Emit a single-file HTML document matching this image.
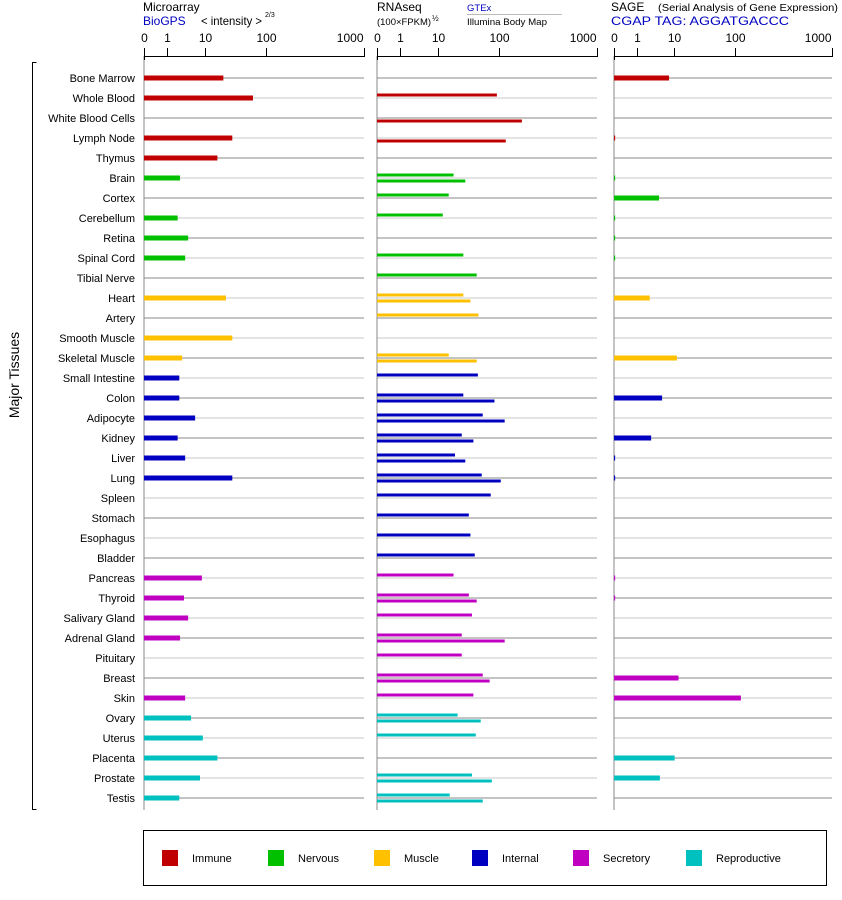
<!DOCTYPE html>
<html><head><meta charset="utf-8"><style>
body{margin:0;background:#fff;font-family:"Liberation Sans",Arial,sans-serif}
svg{display:block}
text{font-family:"Liberation Sans",Arial,sans-serif}
</style></head><body>
<svg id="c" width="842" height="900" xmlns="http://www.w3.org/2000/svg"></svg>
<script>
const tissues=["Bone Marrow","Whole Blood","White Blood Cells","Lymph Node","Thymus","Brain","Cortex","Cerebellum","Retina","Spinal Cord","Tibial Nerve","Heart","Artery","Smooth Muscle","Skeletal Muscle","Small Intestine","Colon","Adipocyte","Kidney","Liver","Lung","Spleen","Stomach","Esophagus","Bladder","Pancreas","Thyroid","Salivary Gland","Adrenal Gland","Pituitary","Breast","Skin","Ovary","Uterus","Placenta","Prostate","Testis"];
const groups=[0,0,0,0,0,1,1,1,1,1,1,2,2,2,2,3,3,3,3,3,3,3,3,3,3,4,4,4,4,4,4,4,5,5,5,5,5];
const groupNames=["Immune","Nervous","Muscle","Internal","Secretory","Reproductive"];
const groupColors=["#c00000","#00c000","#ffc000","#0000c0","#c000c0","#00c0c0"];
const microarray=[20,61,null,28,16,2.2,null,1.9,3.6,3.0,null,22,null,28,2.5,2.1,2.1,5.5,1.9,3.0,28,null,null,null,null,8.3,2.8,3.6,2.2,null,null,3.0,4.3,8.8,16,7.4,2.1];
const gtex=[null,92,null,null,null,18,15,12,null,26,43,26,46,null,15,45,26,54,24.5,19,52,73,32,34,40,18,32,36,24.5,24.5,54,38,21,41.5,null,36,15.6];
const illumina=[null,null,171,117,null,28,null,null,null,null,null,34,null,null,43,null,84,114,38,28,104,null,null,null,null,null,43,null,114,null,70,null,50,null,null,76,54];
const sage=[7.2,null,null,0.05,null,0.05,3.9,0.05,0.05,0.05,null,2.2,null,null,11,null,4.7,null,2.4,0.05,0.05,null,null,null,null,0.05,0.05,null,null,null,11.7,115,null,null,10.1,4.1,null];
const tickValues=[0,1,10,100,1000];
const tickLabels=["0","1","10","100","1000"];

const svg=document.getElementById('c');
const NS="http://www.w3.org/2000/svg";
function mk(tag,attrs,parent){const e=document.createElementNS(NS,tag);for(const k in attrs)e.setAttribute(k,attrs[k]);(parent||svg).appendChild(e);return e;}
const tickFrac=[0,0.105,0.277,0.555,1];
function scale(v,x0,w){
  if(v<=0)return x0;
  let f;
  if(v<=1)f=v*tickFrac[1];
  else{const l=Math.log10(v);const i=Math.min(2,Math.floor(l));f=tickFrac[i+1]+(l-i)*(tickFrac[i+2]-tickFrac[i+1]);}
  return x0+f*w;
}
const rowY=i=>78+i*20;
const panels=[{x0:144,w:220,name:"microarray"},{x0:377,w:220,name:"rnaseq"},{x0:614,w:218,name:"sage"}];

panels.forEach(p=>{
  const g=mk('g',{});
  
  
  tissues.forEach((t,i)=>{
    const l=mk('line',{x1:p.x0,x2:p.x0+p.w,y1:rowY(i),y2:rowY(i),stroke:i%2?'#c8c8c8':'#888','stroke-width':1},g);
    
    
  });
  const ax=mk('line',{x1:p.x0,x2:p.x0,y1:56,y2:810,stroke:'#888','stroke-width':1},g);
  
  
  const xa=mk('line',{x1:p.x0,x2:p.x0+p.w,y1:56.5,y2:56.5,stroke:'#000','stroke-width':1},g);
  
  
  tickValues.forEach((v,k)=>{
    const x=Math.round(scale(v,p.x0,p.w))+0.5;
    const tk=mk('line',{x1:x,x2:x,y1:48,y2:k===0?60:57,stroke:'#000'},g);
    
    
    const tx=mk('text',{x:k===4?x-1:x,y:42,'font-size':12,'text-anchor':k===0?'middle':(k===4?'end':'middle')},g);
    tx.textContent=tickLabels[k];
    
    
  });
});

tissues.forEach((t,i)=>{
  const tx=mk('text',{x:135,y:rowY(i)+4,'font-size':11,'text-anchor':'end'});
  tx.textContent=t;
  
  
});

function hbar(x0,x1,y,h,color,name){
  const r=mk('rect',{x:x0,y:y,width:Math.max(1,x1-x0),height:h,fill:color});
  
  
}
tissues.forEach((t,i)=>{
  const c=groupColors[groups[i]];const y=rowY(i);
  if(microarray[i]!=null){const p=panels[0];hbar(p.x0,scale(microarray[i],p.x0,p.w),y-2.5,5,c,'microarray-bar');}
  if(gtex[i]!=null){const p=panels[1];hbar(p.x0,scale(gtex[i],p.x0,p.w),y-4.5,3,c,'gtex-bar');}
  if(illumina[i]!=null){const p=panels[1];hbar(p.x0,scale(illumina[i],p.x0,p.w),y+1.5,3,c,'illumina-bar');}
  if(sage[i]!=null){const p=panels[2];hbar(p.x0,scale(sage[i],p.x0,p.w),y-2.5,5,c,'sage-bar');}
});

function txt(s,x,y,size,fill,name,len){const a={x:x,y:y,'font-size':size,fill:fill||'#000'};if(len){a.textLength=len;a.lengthAdjust='spacingAndGlyphs';}const t=mk('text',a);t.textContent=s;return t;}
txt("Microarray",143,11,12,'#000','microarray-title');
txt("BioGPS",143,25,12,'#0000c0','biogps-label');
txt("< intensity >",201,25,12,'#000','intensity-label',61);
txt("2/3",265,17,7,'#000','intensity-exponent');
txt("RNAseq",377,11,12,'#000','rnaseq-title');
txt("(100×FPKM)",377,25,9.5,'#000','fpkm-label',54);
txt("½",432,21,8,'#000','fpkm-exponent');
txt("GTEx",467,11,9.5,'#0000c0','gtex-label');
const gl=mk('line',{x1:467,x2:562,y1:14.5,y2:14.5,stroke:'#bbb'});
txt("Illumina Body Map",467,25,9.5,'#000','illumina-label',80);
txt("SAGE",611,11,12,'#000','sage-title');
txt("(Serial Analysis of Gene Expression)",658,11,10,'#000','sage-subtitle',180);
txt("CGAP TAG: AGGATGACCC",611,25,12,'#0000c0','cgap-tag',178);

const br=mk('path',{d:'M36.5 62.5 H32.5 V809.5 H36.5',fill:'none',stroke:'#000'});
const yt=mk('text',{x:0,y:0,'font-size':14,'text-anchor':'middle',transform:'translate(19,375) rotate(-90)'});yt.textContent="Major Tissues";

const lb=mk('rect',{x:143.5,y:830.5,width:683,height:55,fill:'none',stroke:'#000'});
const lx=[162,268,374,472,573,686];
groupNames.forEach((g,k)=>{
  const r=mk('rect',{x:lx[k],y:850,width:16,height:16,fill:groupColors[k]});
  
  
  const t=mk('text',{x:lx[k]+30,y:862,'font-size':11});
  t.textContent=g;
  
  
});
</script>
</body></html>
